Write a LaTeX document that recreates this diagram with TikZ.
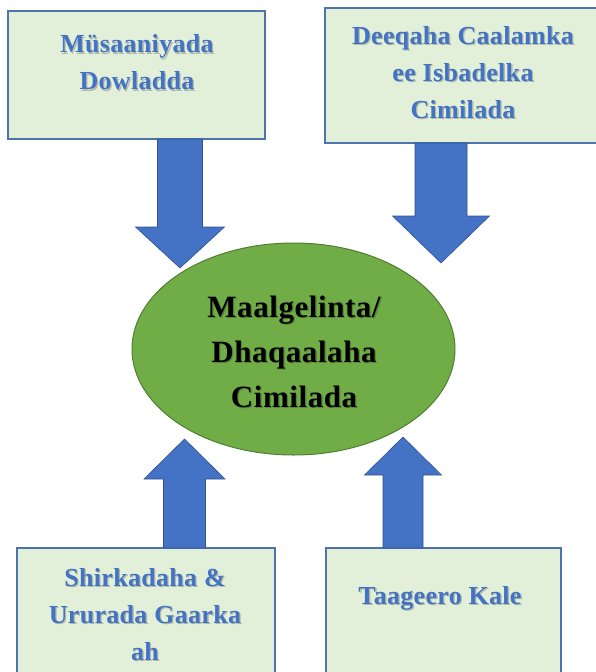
\documentclass[tikz,border=0pt]{standalone}
\usepackage{fontspec}
\setmainfont{Liberation Serif}
\newfontfamily\spacedfont[LetterSpace=1.2]{Liberation Serif}
\newfontfamily\midfont[LetterSpace=1.8]{Liberation Serif}
\definecolor{boxfill}{HTML}{E2F0D9}
\definecolor{boxline}{HTML}{4F73AC}
\definecolor{txtblue}{HTML}{4472C4}
\definecolor{arrfill}{HTML}{4472C4}
\definecolor{arrline}{HTML}{2F528F}
\definecolor{ellfill}{HTML}{70AD47}
\definecolor{ellline}{HTML}{507E32}
\tikzset{
  srcbox/.style={draw=boxline, fill=boxfill, line width=1.4pt},
  boxtext/.style={text=txtblue, align=center, inner sep=0pt,
    font=\spacedfont\bfseries\fontsize{26}{37}\selectfont},
  midtext/.style={text=black, align=center, inner sep=0pt,
    font=\midfont\bfseries\fontsize{31}{45}\selectfont},
  shadowtext/.style={text=black, opacity=0.22},
  blockarr/.style={fill=arrfill, draw=arrline, line width=0.6pt, line join=miter},
  hub/.style={draw=ellline, fill=ellfill, line width=1pt}
}
% #1 centre x, #2 foot y, #3 head-base y, #4 tip y, #5 shaft half width, #6 head half width
\newcommand\blockarrow[6]{%
  \path[blockarr] ({#1-#5},#2) -- ({#1-#5},#3) -- ({#1-#6},#3) -- (#1,#4)
     -- ({#1+#6},#3) -- ({#1+#5},#3) -- ({#1+#5},#2) -- cycle;}
% text with soft shadow: #1 name, #2 position, #3 style, #4 text
\newcommand\shtext[4]{%
  \node[#3, shadowtext] at ($#2+(1.3,1.3)$) {#4};
  \node[#3] (#1) at #2 {#4};}
\usetikzlibrary{calc}
\begin{document}
\begin{tikzpicture}[x=1pt,y=-1pt]
\useasboundingbox (0,0) rectangle (595,672);
% source boxes
\path[srcbox] (8,11) rectangle (265,139);
\path[srcbox] (325,8) rectangle (610,143);
\path[srcbox] (17,548) rectangle (275,690);
\path[srcbox] (326,548) rectangle (561,690);
\node (b1) at (136.5,75) {};
\node (b2) at (467,75) {};
\node (b3) at (146,610) {};
\node (b4) at (443,610) {};
% hub ellipse
\path[hub] (293.5,349) ellipse [x radius=161.5, y radius=106];
\node (hub) at (293.5,349) {};
% block arrows
\blockarrow{180}{139}{227}{268}{22.5}{44.5}
\blockarrow{441}{143}{216}{263}{26}{48.5}
\blockarrow{184.5}{548}{479}{439}{21}{40.5}
\blockarrow{403}{548}{475}{437}{20}{38.5}
% texts
\shtext{t1}{(137,62.5)}{boxtext}{Müsaaniyada\\Dowladda}
\shtext{t2}{(463,72.5)}{boxtext}{Deeqaha Caalamka\\ee Isbadelka\\Cimilada}
\shtext{t3}{(145,614.5)}{boxtext}{Shirkadaha \&\\Ururada Gaarka\\ah}
\shtext{t4}{(440,598)}{boxtext}{Taageero Kale}
\shtext{tm}{(294,352)}{midtext}{Maalgelinta/\\Dhaqaalaha\\Cimilada}
\end{tikzpicture}
\end{document}
